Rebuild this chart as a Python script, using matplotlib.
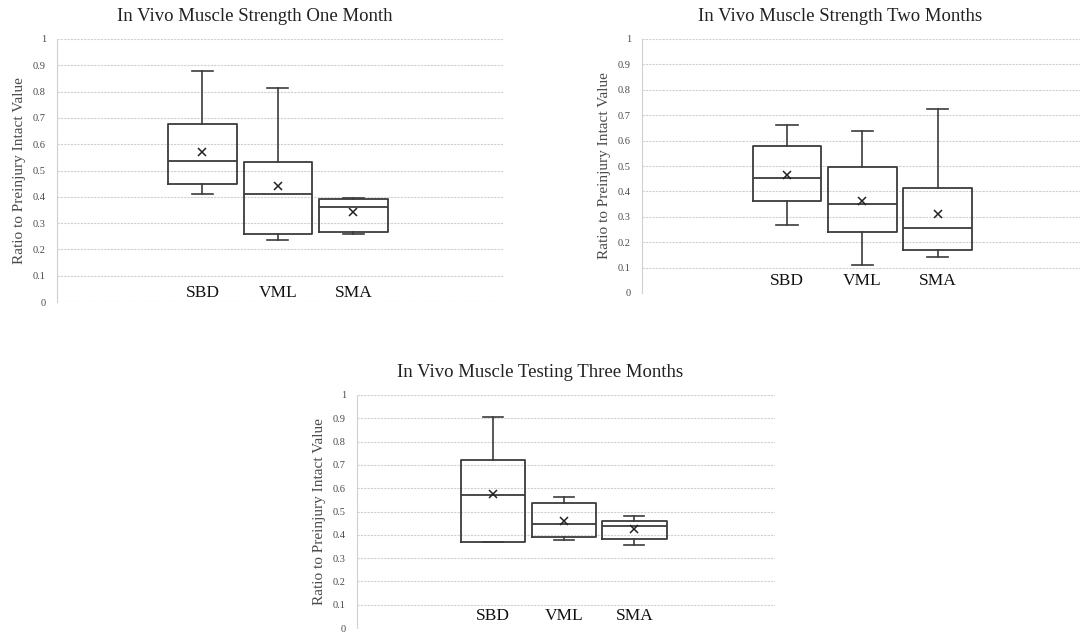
"""
Three Excel-style box plots: in vivo muscle strength ratio at one, two and three months.
"""
import matplotlib
matplotlib.use("Agg")
import matplotlib.pyplot as plt

plt.rcParams.update({"font.family": ["Liberation Serif", "DejaVu Serif"]})

groups = ["SBD", "VML", "SMA"]

# one month
m1_whislo = [0.410, 0.234, 0.259]
m1_q1 = [0.449, 0.258, 0.265]
m1_med = [0.538, 0.412, 0.362]
m1_q3 = [0.678, 0.532, 0.392]
m1_whishi = [0.877, 0.815, 0.397]
m1_mean = [0.572, 0.442, 0.343]

# two months
m2_whislo = [0.269, 0.109, 0.143]
m2_q1 = [0.363, 0.239, 0.168]
m2_med = [0.452, 0.351, 0.256]
m2_q3 = [0.579, 0.498, 0.413]
m2_whishi = [0.661, 0.637, 0.726]
m2_mean = [0.463, 0.364, 0.312]

# three months
m3_whislo = [0.369, 0.377, 0.356]
m3_q1 = [0.370, 0.390, 0.381]
m3_med = [0.571, 0.446, 0.439]
m3_q3 = [0.720, 0.536, 0.459]
m3_whishi = [0.907, 0.561, 0.479]
m3_mean = [0.574, 0.460, 0.426]

titles = ["In Vivo Muscle Strength One Month",
          "In Vivo Muscle Strength Two Months",
          "In Vivo Muscle Testing Three Months"]
yticks = [0, 0.1, 0.2, 0.3, 0.4, 0.5, 0.6, 0.7, 0.8, 0.9, 1]
ytick_labels = ["0", "0.1", "0.2", "0.3", "0.4", "0.5", "0.6", "0.7", "0.8", "0.9", "1"]
ylabel = "Ratio to Preinjury Intact Value"

LINE = "#3c3c3c"
GRID = "#d0d0d0"
TICK = "#4a4a4a"


def stats(whislo, q1, med, q3, whishi, mean):
    return [dict(whislo=a, q1=b, med=c, q3=d, whishi=e, mean=f, fliers=[], label=g)
            for a, b, c, d, e, f, g in zip(whislo, q1, med, q3, whishi, mean, groups)]


panels = [
    # rect (px: left, top, right, bottom), xlim right, label y, title x
    (stats(m1_whislo, m1_q1, m1_med, m1_q3, m1_whishi, m1_mean), (57, 39, 503, 302), 4.98, 0.036, 0.444),
    (stats(m2_whislo, m2_q1, m2_med, m2_q3, m2_whishi, m2_mean), (642, 39, 1080, 293), 4.89, 0.046, 0.452),
    (stats(m3_whislo, m3_q1, m3_med, m3_q3, m3_whishi, m3_mean), (357, 395, 775, 628), 4.99, 0.050, 0.438),
]

W, H = 1080, 635
fig = plt.figure(figsize=(W / 100, H / 100), dpi=100)

for (st, (l, t, r, b), xr, ly, tx), title in zip(panels, titles):
    ax = fig.add_axes([l / W, (H - b) / H, (r - l) / W, (b - t) / H])
    ax.bxp(st, positions=[1, 2, 3], widths=0.91, showmeans=True, capwidths=0.28,
           boxprops=dict(color=LINE, lw=1.3), whiskerprops=dict(color=LINE, lw=1.2),
           capprops=dict(color=LINE, lw=1.2), medianprops=dict(color=LINE, lw=1.3),
           meanprops=dict(marker="x", markeredgecolor="#222222", markersize=6, markeredgewidth=1.1))
    ax.set_xlim(-0.925, xr)
    ax.set_ylim(0, 1)
    ax.set_xticks([])
    ax.set_yticks(yticks, ytick_labels)
    ax.tick_params(axis="y", length=0, pad=8, labelsize=7.5, labelcolor=TICK)
    ax.grid(axis="y", color=GRID, lw=0.8, ls=(0, (2, 1)))
    ax.set_axisbelow(True)
    for s in ("top", "right", "bottom"):
        ax.spines[s].set_visible(False)
    ax.spines["left"].set_color(GRID)
    ax.spines["left"].set_linestyle((0, (2, 1)))
    ax.spines["left"].set_linewidth(0.8)
    ax.set_ylabel(ylabel, fontsize=11, color=TICK)
    ax.yaxis.set_label_coords(-31 / (r - l), 0.5)
    for i, g in enumerate(groups):
        ax.text(i + 1, ly, g, ha="center", va="center", fontsize=12.5, color="#111111")
    ax.annotate(title, xy=(tx, 1), xycoords="axes fraction", xytext=(0, 16.5),
                textcoords="offset points", ha="center", va="center", fontsize=13.5, color="#222222")

fig.savefig("out.png", dpi=100, facecolor="white")
